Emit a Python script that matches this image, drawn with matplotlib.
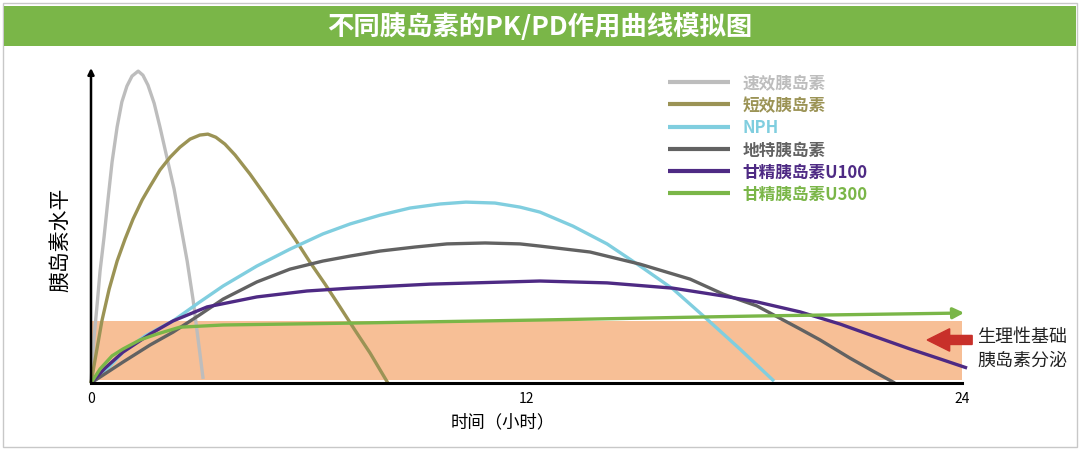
"""
不同胰岛素的PK/PD作用曲线模拟图
Schematic insulin action curves vs. time, redrawn with matplotlib.
"""
import matplotlib
matplotlib.use("Agg")
import matplotlib.pyplot as plt
from matplotlib.patches import Rectangle, FancyArrow

plt.rcParams['font.family'] = ['Noto Sans CJK SC', 'DejaVu Sans']

# ── colour palette ────────────────────────────────────────────────────────────
BANNER_GREEN = "#7AB648"
BAND_COLOR   = "#F7BF96"
ARROW_RED    = "#C8302A"
RAPID_COLOR  = "#BDBDBD"
SHORT_COLOR  = "#9B9355"
NPH_COLOR    = "#80CEDF"
DETE_COLOR   = "#626262"
U100_COLOR   = "#4E2A84"
U300_COLOR   = "#7AB648"

# ── data: time (h) and relative insulin level ─────────────────────────────────
rapid_t = [0, 0.08, 0.17, 0.25, 0.36, 0.47, 0.58, 0.72, 0.85, 0.99, 1.13, 1.30,
           1.43, 1.57, 1.74, 1.90, 2.09, 2.29, 2.48, 2.65, 2.81, 2.95, 3.09]
rapid_y = [0, 14.1, 25.3, 35.9, 46.8, 59.0, 70.8, 82.1, 90.1, 95.2, 98.4, 100,
           98.7, 95.5, 89.7, 82.1, 72.4, 62.2, 50.0, 39.1, 26.9, 14.1, 1.3]

short_t = [0, 0.14, 0.30, 0.50, 0.72, 0.94, 1.16, 1.41, 1.63, 1.90, 2.18, 2.45,
           2.73, 3.00, 3.22, 3.44, 3.69, 3.97, 4.38, 4.79, 5.21, 5.62, 6.03,
           6.45, 6.86, 7.27, 7.69, 8.18]
short_y = [0, 9.3, 19.9, 30.1, 39.1, 46.2, 52.6, 58.7, 63.1, 68.3, 72.4, 75.6,
           78.2, 79.5, 79.8, 78.8, 76.6, 73.1, 67.0, 60.3, 53.2, 46.2, 38.8,
           31.7, 24.4, 17.0, 9.6, 0]

nph_t = [0, 0.39, 0.88, 1.49, 2.26, 2.95, 3.64, 4.57, 5.48, 6.39, 7.14, 7.96,
         8.79, 9.62, 10.33, 11.13, 11.82, 12.37, 13.28, 14.22, 15.13, 16.04,
         16.97, 17.88, 18.82]
nph_y = [0, 3.8, 9.9, 15.1, 19.9, 25.6, 31.1, 37.5, 42.9, 47.8, 51.0, 53.8,
         56.1, 57.4, 58.0, 57.7, 56.4, 54.8, 50.3, 44.6, 37.5, 30.1,
         20.5, 10.9, 0.6]

dete_t = [0, 0.88, 1.63, 2.26, 2.95, 3.64, 4.57, 5.48, 6.39, 7.14, 7.96, 8.93,
          9.81, 10.86, 11.82, 12.37, 13.75, 15.13, 16.51, 17.42, 18.35, 19.54,
          20.09, 20.91, 21.55, 22.15]
dete_y = [0, 6.7, 12.2, 16.3, 21.5, 26.9, 32.4, 36.5, 39.1, 40.7, 42.3, 43.6,
          44.6, 44.9, 44.6, 43.9, 42.0, 38.1, 33.3, 28.5, 24.7, 17.3,
          13.8, 8.0, 3.8, 0]

u100_t = [0, 0.39, 0.88, 1.63, 2.26, 3.20, 4.57, 5.95, 7.14, 9.34, 12.37, 14.22,
          16.04, 17.42, 18.35, 19.54, 20.64, 21.55, 22.57, 23.40, 24.14]
u100_y = [0, 4.8, 9.9, 15.7, 19.9, 24.4, 27.6, 29.5, 30.4, 31.7, 32.7, 32.1,
          30.4, 27.9, 26.0, 22.8, 18.9, 15.1, 10.9, 7.7, 4.8]

u300_t = [0, 0.25, 0.58, 0.88, 1.35, 1.82, 2.45, 3.64, 7.14, 12.37, 18.43, 23.81]
u300_y = [0, 4.5, 8.7, 10.9, 13.8, 15.7, 17.9, 18.6, 19.2, 20.2, 21.5, 22.4]
u300_tip = (24.06, 22.5)

series = [
    ("速效胰岛素",     rapid_t, rapid_y, RAPID_COLOR),
    ("短效胰岛素",     short_t, short_y, SHORT_COLOR),
    ("NPH",           nph_t,   nph_y,   NPH_COLOR),
    ("地特胰岛素",     dete_t,  dete_y,  DETE_COLOR),
    ("甘精胰岛素U100", u100_t,  u100_y,  U100_COLOR),
    ("甘精胰岛素U300", u300_t,  u300_y,  U300_COLOR),
]

# physiological basal secretion band
band_t = (0, 24)
band_y = (1.0, 19.9)

x_ticks = [0, 12, 24]

# ── figure ────────────────────────────────────────────────────────────────────
W, H = 1080, 452
fig = plt.figure(figsize=(W / 100, H / 100), dpi=100)
fig.patch.set_facecolor("white")

# outer frame + title banner
fig.patches.append(Rectangle((3 / W, 4 / H), 1074 / W, 444 / H, transform=fig.transFigure,
                             fill=False, edgecolor="#C8C8C8", lw=1))
fig.patches.append(Rectangle((4 / W, 1 - 47 / H), 1072 / W, 40 / H, transform=fig.transFigure,
                             facecolor=BANNER_GREEN, edgecolor="none"))
fig.text(540 / W, 1 - 27 / H, "不同胰岛素的PK/PD作用曲线模拟图", color="white",
         fontsize=19, fontweight="bold", ha="center", va="center")

ax = fig.add_axes([91 / W, 1 - 384 / H, 871 / W, 315 / H])
ax.set_xlim(0, 24)
ax.set_ylim(0, 101)

ax.add_patch(Rectangle((band_t[0], band_y[0]), band_t[1] - band_t[0], band_y[1] - band_y[0],
                       facecolor=BAND_COLOR, edgecolor="none", zorder=1))

for label, t, y, c in series:
    ax.plot(t, y, color=c, lw=2.4, label=label, zorder=3, clip_on=False,
            solid_capstyle="butt", solid_joinstyle="round")

# arrow head on the U300 line
ax.annotate("", xy=u300_tip, xytext=(u300_t[-1], u300_y[-1]),
            arrowprops=dict(arrowstyle="-|>", color=U300_COLOR, lw=2.4,
                            mutation_scale=16, shrinkA=0, shrinkB=0),
            annotation_clip=False, zorder=4)

# red arrow pointing at the band
ax.add_patch(FancyArrow(24.28, 13.8, -1.24, 0, width=2.9, head_width=7.2,
                        head_length=0.62, length_includes_head=True,
                        color=ARROW_RED, clip_on=False, zorder=5))
fig.text(1022 / W, 1 - 349 / H, "生理性基础\n胰岛素分泌", fontsize=13,
         color="#222222", ha="center", va="center", linespacing=1.4)

# axes
for side in ("top", "right", "left"):
    ax.spines[side].set_visible(False)
ax.spines["bottom"].set_linewidth(2.2)
ax.spines["bottom"].set_zorder(6)
ax.annotate("", xy=(0, 1.0), xytext=(0, 0), xycoords="axes fraction",
            arrowprops=dict(arrowstyle="-|>", color="black", lw=1.8,
                            mutation_scale=9, shrinkA=0, shrinkB=0))
ax.set_yticks([])
ax.set_xticks(x_ticks)
ax.set_xticklabels([str(v) for v in x_ticks])
ax.tick_params(axis="x", length=0, pad=6, labelsize=10)

fig.text(503 / W, 1 - 422 / H, "时间（小时）", fontsize=12.5, ha="center", va="center")
fig.text(60 / W, 1 - 240 / H, "胰岛素水平", fontsize=15, rotation=90,
         ha="center", va="center")

leg = ax.legend(loc="upper left", bbox_to_anchor=(668 / W, 1 - 75 / H),
                bbox_transform=fig.transFigure, frameon=False, labelcolor="linecolor",
                prop={"weight": "bold", "size": 12}, handlelength=3.7,
                handletextpad=0.75, labelspacing=0.25, borderpad=0, borderaxespad=0)
for line in leg.get_lines():
    line.set_linewidth(3)

fig.savefig("out.png", dpi=100)
